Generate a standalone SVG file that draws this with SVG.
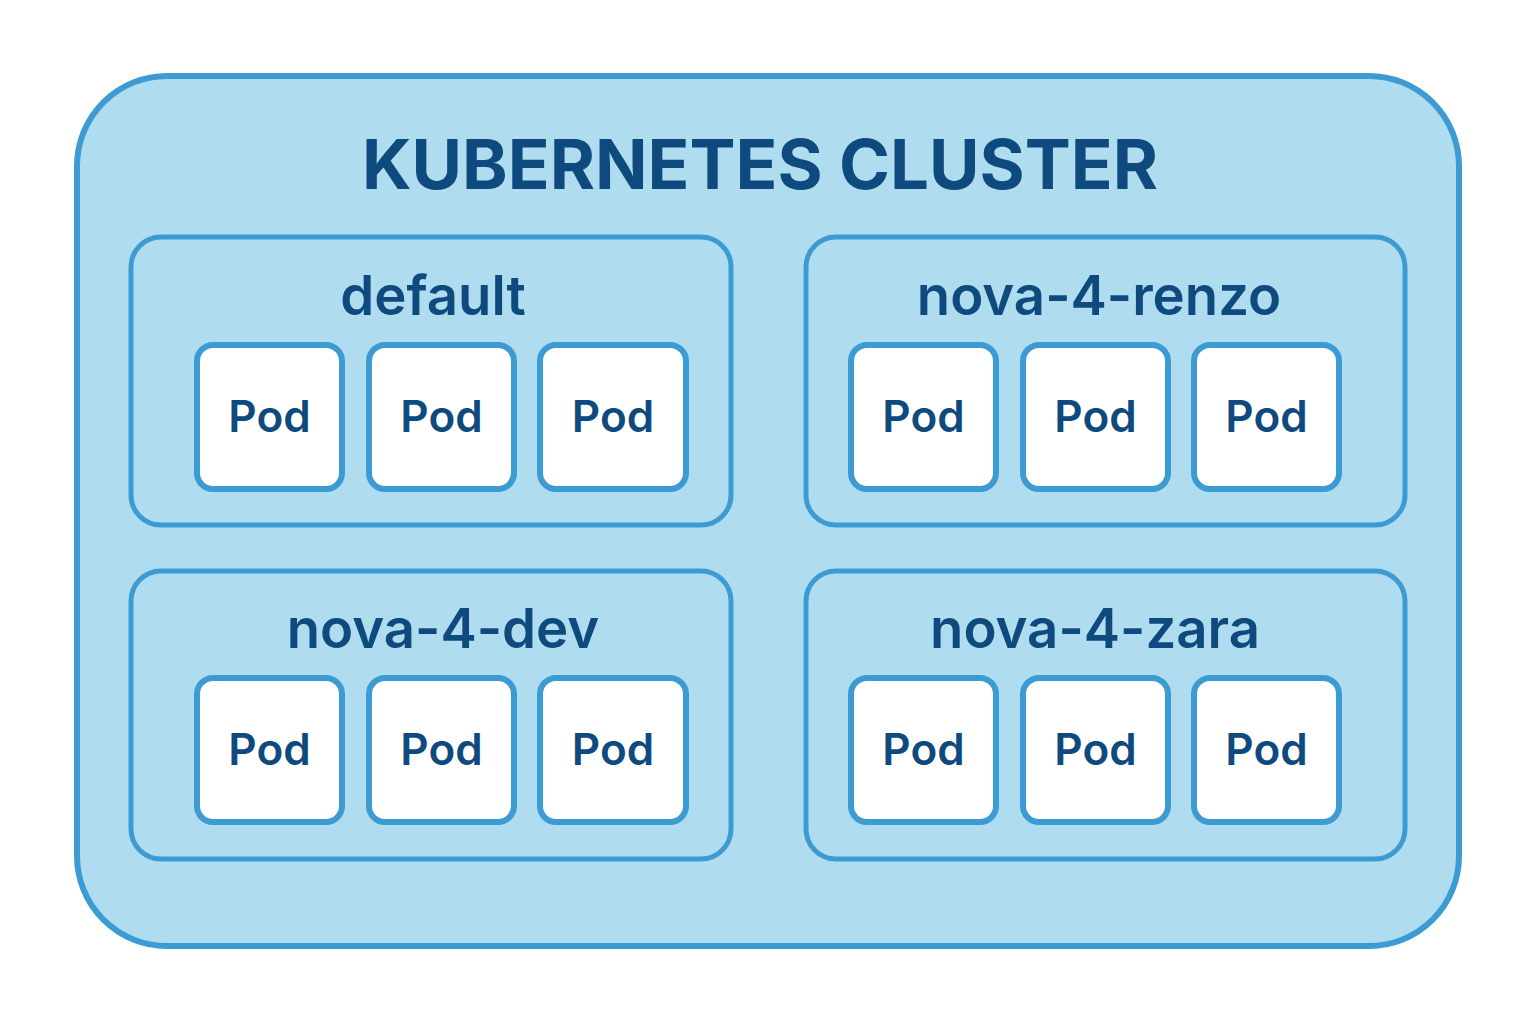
<svg xmlns="http://www.w3.org/2000/svg" width="1536" height="1024" viewBox="0 0 1536 1024">
<style>
.cluster{fill:#afdcef;stroke:#3d9bd4;stroke-width:6}
.ns{fill:#afdcef;stroke:#3d9bd4;stroke-width:5}
.pod{fill:#ffffff;stroke:#3d9bd4;stroke-width:6}
text{font-family:Inter,"Open Sans","Liberation Sans",sans-serif;fill:#0f4a7e;text-anchor:middle}
.title{font-size:69px;font-weight:700}
.nsl{font-size:54.5px;font-weight:600}
.podl{font-size:44px;font-weight:600}
</style>
<rect width="1536" height="1024" fill="#ffffff"/>
<g id="cluster">
<rect class="cluster" x="77" y="76" width="1382" height="870" rx="90"/>
<text class="title" x="760" y="189">KUBERNETES CLUSTER</text>
</g>
<g id="ns-default">
<rect class="ns" x="131" y="237" width="600" height="288" rx="30"/>
<text class="nsl" x="433" y="315">default</text>
<g id="pod-default-1"><rect class="pod" x="197" y="345" width="145" height="144" rx="16"/><text class="podl" x="269.5" y="432">Pod</text></g>
<g id="pod-default-2"><rect class="pod" x="369" y="345" width="145" height="144" rx="16"/><text class="podl" x="441.5" y="432">Pod</text></g>
<g id="pod-default-3"><rect class="pod" x="540" y="345" width="146" height="144" rx="16"/><text class="podl" x="613" y="432">Pod</text></g>
</g>
<g id="ns-renzo">
<rect class="ns" x="806" y="237" width="599" height="288" rx="30"/>
<text class="nsl" x="1099" y="315">nova-4-renzo</text>
<g id="pod-renzo-1"><rect class="pod" x="851" y="345" width="145" height="144" rx="16"/><text class="podl" x="923.5" y="432">Pod</text></g>
<g id="pod-renzo-2"><rect class="pod" x="1023" y="345" width="145" height="144" rx="16"/><text class="podl" x="1095.5" y="432">Pod</text></g>
<g id="pod-renzo-3"><rect class="pod" x="1194" y="345" width="145" height="144" rx="16"/><text class="podl" x="1266.5" y="432">Pod</text></g>
</g>
<g id="ns-dev">
<rect class="ns" x="131" y="571" width="600" height="288" rx="30"/>
<text class="nsl" x="443" y="648">nova-4-dev</text>
<g id="pod-dev-1"><rect class="pod" x="197" y="678" width="145" height="144" rx="16"/><text class="podl" x="269.5" y="765">Pod</text></g>
<g id="pod-dev-2"><rect class="pod" x="369" y="678" width="145" height="144" rx="16"/><text class="podl" x="441.5" y="765">Pod</text></g>
<g id="pod-dev-3"><rect class="pod" x="540" y="678" width="146" height="144" rx="16"/><text class="podl" x="613" y="765">Pod</text></g>
</g>
<g id="ns-zara">
<rect class="ns" x="806" y="571" width="599" height="288" rx="30"/>
<text class="nsl" x="1095" y="648">nova-4-zara</text>
<g id="pod-zara-1"><rect class="pod" x="851" y="678" width="145" height="144" rx="16"/><text class="podl" x="923.5" y="765">Pod</text></g>
<g id="pod-zara-2"><rect class="pod" x="1023" y="678" width="145" height="144" rx="16"/><text class="podl" x="1095.5" y="765">Pod</text></g>
<g id="pod-zara-3"><rect class="pod" x="1194" y="678" width="145" height="144" rx="16"/><text class="podl" x="1266.5" y="765">Pod</text></g>
</g>
<g id="connectors"/>
</svg>
